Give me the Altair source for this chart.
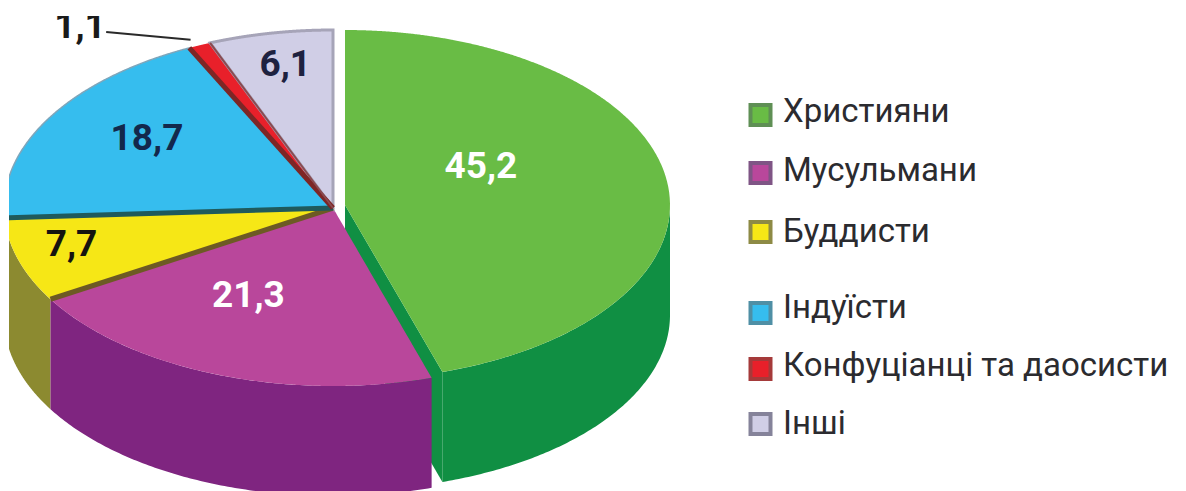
import numpy as np
import pandas as pd
import altair as alt

# ---- values ----
CATEGORIES = ["Християни", "Мусульмани", "Буддисти", "Індуїсти", "Конфуціанці та даосисти", "Інші"]
VALUES = [45.2, 21.3, 7.7, 18.7, 1.1, 6.1]
VALUE_LABELS = ["45,2", "21,3", "7,7", "18,7", "1,1", "6,1"]
TOP_COLORS = ["#69bc45", "#b9479b", "#f6e716", "#36bdee", "#e8202a", "#d0cee6"]
SIDE_COLORS = ["#108f43", "#7f2580", "#8c8a30", "#1b7fa8", "#9c1b20", "#9a98ae"]
LABEL_COLORS = ["#ffffff", "#ffffff", "#15140f", "#13284c", "#1a1a1a", "#1e2240"]
LEGEND_EDGE = ["#5f8f55", "#7f5585", "#8d8a45", "#4f8fa5", "#a53a3a", "#85839a"]

# label placement: (angle in degrees clockwise from 12 o'clock, fraction of the radius)
LABEL_ANGLE = [62.6, 207.5, 255.5, 304.5, 322.9, 349.8]
LABEL_RADIUS = [0.471, 0.557, 0.821, 0.686, 1.275, 0.819]
LEGEND_ROWS = [115, 173, 232, 313, 369, 424]
LEGEND_TEXT_ROWS = [112, 171, 232, 308, 366, 424]

# ---- pie geometry (pixels of the reference) ----
CX, CY, RX, RY = 333.0, 208.0, 329.0, 178.0        # main body
GX, GY, GRX, GRY = 345.0, 205.0, 325.0, 175.0      # pulled-out slice
DEPTH = 110.0

share = np.array(VALUES) / np.sum(VALUES) * 360.0
ends = np.cumsum(share)
starts = ends - share


def ell(t, cx, cy, rx, ry, f=1.0):
    r = np.radians(t)
    return cx + f * rx * np.sin(r), cy - f * ry * np.cos(r)


def sector(t0, t1, cx, cy, rx, ry):
    """Vertical spans of a convex slice, so an area mark can fill it."""
    ts = np.linspace(t0, t1, 90)
    px, py = ell(ts, cx, cy, rx, ry)
    px = np.r_[cx, px, cx]
    py = np.r_[cy, py, cy]
    xs = np.unique(np.r_[np.linspace(px.min(), px.max(), 260), px])
    rows = []
    for x in xs:
        ys = []
        for i in range(len(px) - 1):
            a, b = px[i], px[i + 1]
            if min(a, b) <= x <= max(a, b):
                if a == b:
                    ys += [py[i], py[i + 1]]
                else:
                    ys.append(py[i] + (x - a) / (b - a) * (py[i + 1] - py[i]))
        if ys:
            rows.append({"x": x, "y": min(ys), "y2": max(ys)})
    return pd.DataFrame(rows)


def wall(t0, t1, cx, cy, rx, ry):
    ts = np.linspace(t0, t1, 120)
    px, py = ell(ts, cx, cy, rx, ry)
    return pd.DataFrame({"x": px, "y": py, "y2": py + DEPTH})


X = alt.X("x:Q", scale=alt.Scale(domain=[9, 1178], nice=False, zero=False), axis=None)
Y = alt.Y("y:Q", scale=alt.Scale(domain=[491, 16], nice=False, zero=False), axis=None)
Y2 = alt.Y2("y2:Q")


def area(df, color, **kw):
    return alt.Chart(df).mark_area(color=color, clip=True, **kw).encode(x=X, y=Y, y2=Y2)


def seg(x0, y0, x1, y1, color, width):
    df = pd.DataFrame({"x": [x0, x1], "y": [y0, y1]})
    return alt.Chart(df).mark_line(color=color, strokeWidth=width, clip=True).encode(x=X, y=Y)


layers = []

# pulled-out slice: cut face, outer wall, top
tipx, tipy = ell(ends[0], GX, GY, GRX, GRY)
fx = np.array([GX, tipx])
fy = np.array([GY, tipy])
layers.append(area(pd.DataFrame({"x": fx, "y": fy, "y2": fy + DEPTH}), SIDE_COLORS[0]))
layers.append(area(wall(90, ends[0], GX, GY, GRX, GRY), SIDE_COLORS[0]))
layers.append(area(sector(starts[0], ends[0], GX, GY, GRX, GRY), TOP_COLORS[0]))

# walls of the main body
layers.append(area(wall(starts[2], ends[2], CX, CY, RX, RY), SIDE_COLORS[2]))
layers.append(area(wall(starts[1], ends[1], CX, CY, RX, RY), SIDE_COLORS[1]))

# tops of the main body
for i in range(1, 6):
    kw = {}
    if i == 5:
        kw = {"stroke": "#a6a4b8", "strokeWidth": 3}
    if i == 3:
        kw = {"stroke": "#7fa6bb", "strokeWidth": 1.5}
    layers.append(area(sector(starts[i], ends[i], CX, CY, RX, RY), TOP_COLORS[i], **kw))

# dark seams between slices
for t, col, w in [(ends[1], "#6d5a24", 5), (ends[2], "#1f5a5c", 5), (ends[3], "#7d2626", 5), (ends[4], "#8a4a50", 2)]:
    px, py = ell(t, CX, CY, RX, RY)
    layers.append(seg(CX, CY, px, py, col, w))

# leader of the small slice
lx0, ly0 = ell(325.1, CX, CY, RX, RY, 1.205)
lx1, ly1 = ell(335.4, CX, CY, RX, RY, 1.04)
layers.append(seg(lx0, ly0, lx1, ly1, "#2a2a2a", 2))

# value labels
lab = []
for i, (t, f) in enumerate(zip(LABEL_ANGLE, LABEL_RADIUS)):
    c = (GX, GY, GRX, GRY) if i == 0 else (CX, CY, RX, RY)
    x, y = ell(t, *c, f)
    lab.append({"x": x, "y": y, "text": VALUE_LABELS[i], "c": LABEL_COLORS[i]})
lab = pd.DataFrame(lab)
layers.append(
    alt.Chart(lab)
    .mark_text(font="Roboto", fontSize=37, fontWeight="bold", baseline="middle", align="center", clip=True)
    .encode(x=X, y=Y, text="text:N", color=alt.Color("c:N", scale=None))
)

# legend
leg = pd.DataFrame({"x": 760.5, "tx": 783.0, "y": LEGEND_ROWS, "ty": LEGEND_TEXT_ROWS,
                    "name": CATEGORIES, "c": TOP_COLORS, "e": LEGEND_EDGE})
layers.append(
    alt.Chart(leg)
    .mark_square(size=400, opacity=1, strokeWidth=4)
    .encode(x=X, y=Y, fill=alt.Fill("c:N", scale=None), stroke=alt.Stroke("e:N", scale=None))
)
layers.append(
    alt.Chart(leg)
    .mark_text(font="Roboto", fontSize=33, align="left", baseline="middle", color="#2b2b2f")
    .encode(x=alt.X("tx:Q", scale=alt.Scale(domain=[9, 1178], nice=False, zero=False), axis=None),
            y=alt.Y("ty:Q", scale=alt.Scale(domain=[491, 16], nice=False, zero=False), axis=None),
            text="name:N")
)

chart = (
    alt.layer(*layers)
    .properties(width=1169, height=475, padding={"left": 1, "top": 8, "right": 0, "bottom": 0}, background="#ffffff")
    .configure_view(stroke=None)
)
chart.save("out.html", embed_options={"renderer": "svg", "actions": False})
